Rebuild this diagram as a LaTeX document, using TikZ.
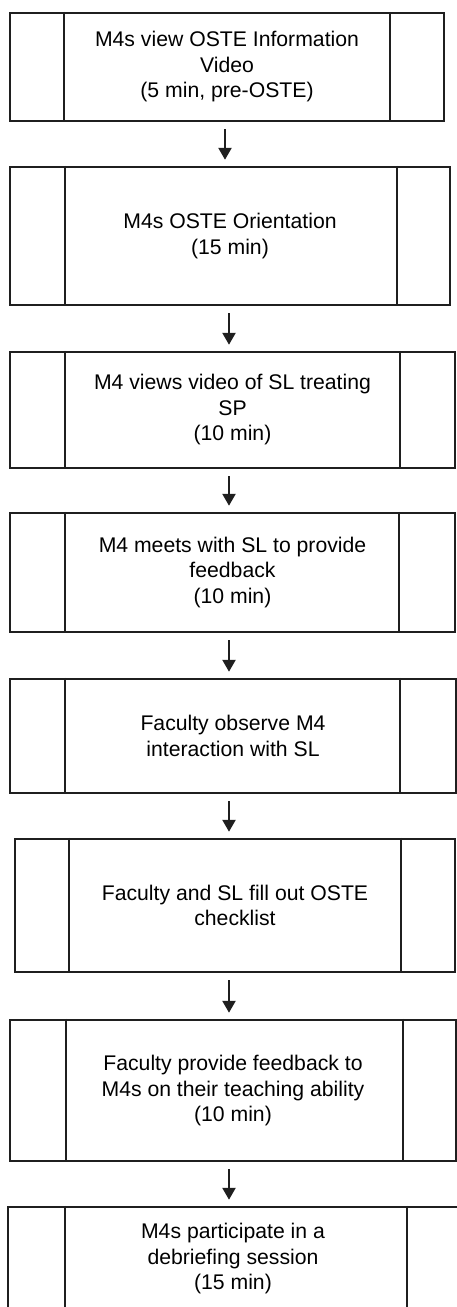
\documentclass[tikz,border=0pt]{standalone}
\usepackage{fontspec}
\setmainfont{Liberation Sans}
\usetikzlibrary{arrows.meta}
\begin{document}
\begin{tikzpicture}[x=1pt,y=-1pt,
  procbox/.style={draw=black!88, line width=2.5pt, inner sep=0pt, align=center,
    font=\fontsize{21.2}{25.5}\selectfont},
  innerline/.style={draw=black!88, line width=2.3pt},
  arr/.style={draw=black!88, line width=2.5pt, -{Triangle[width=13pt,length=12pt]},
    shorten <=7pt, shorten >=6pt}]
\useasboundingbox (0,0) rectangle (457,1307);
\clip (0,0) rectangle (457,1307);
\coordinate (ax) at (229,0);
\coordinate (ax1) at (225,0);

\node[procbox, minimum width=434pt, minimum height=108pt] (b1) at (227,67)
  {M4s view OSTE Information\\Video\\(5 min, pre-OSTE)};
\node[procbox, minimum width=440pt, minimum height=138pt] (b2) at (230,236)
  {M4s OSTE Orientation\\(15 min)};
\node[procbox, minimum width=445pt, minimum height=116pt] (b3) at (232.5,410)
  {M4 views video of SL treating\\SP\\(10 min)};
\node[procbox, minimum width=445pt, minimum height=119pt] (b4) at (232.5,572.5)
  {M4 meets with SL to provide\\feedback\\(10 min)};
\node[procbox, minimum width=446pt, minimum height=114pt] (b5) at (233,736)
  {Faculty observe M4\\interaction with SL};
\node[procbox, minimum width=440pt, minimum height=133pt] (b6) at (235,905.5)
  {Faculty and SL fill out OSTE\\checklist};
\node[procbox, minimum width=446pt, minimum height=141pt] (b7) at (233,1090.5)
  {Faculty provide feedback to\\M4s on their teaching ability\\(10 min)};
\node[procbox, minimum width=450pt, minimum height=103pt] (b8) at (233,1258.5)
  {M4s participate in a\\debriefing session\\(15 min)};

% inner vertical lines (predefined process)
\foreach \b/\l/\r in {b1/55/55, b2/56/54, b3/56/56, b4/56/57, b5/56/57, b6/55/55, b7/57/54, b8/58/52}{
  \draw[innerline] ([xshift=\l pt]\b.north west) -- ([xshift=\l pt]\b.south west);
  \draw[innerline] ([xshift=-\r pt]\b.north east) -- ([xshift=-\r pt]\b.south east);
}

% arrows
\draw[arr] (b1.south -| ax1) -- (b2.north -| ax1);
\draw[arr] (b2.south -| ax) -- (b3.north -| ax);
\draw[arr] (b3.south -| ax) -- (b4.north -| ax);
\draw[arr] (b4.south -| ax) -- (b5.north -| ax);
\draw[arr] (b5.south -| ax) -- (b6.north -| ax);
\draw[arr] (b6.south -| ax) -- (b7.north -| ax);
\draw[arr] (b7.south -| ax) -- (b8.north -| ax);
\end{tikzpicture}
\end{document}
